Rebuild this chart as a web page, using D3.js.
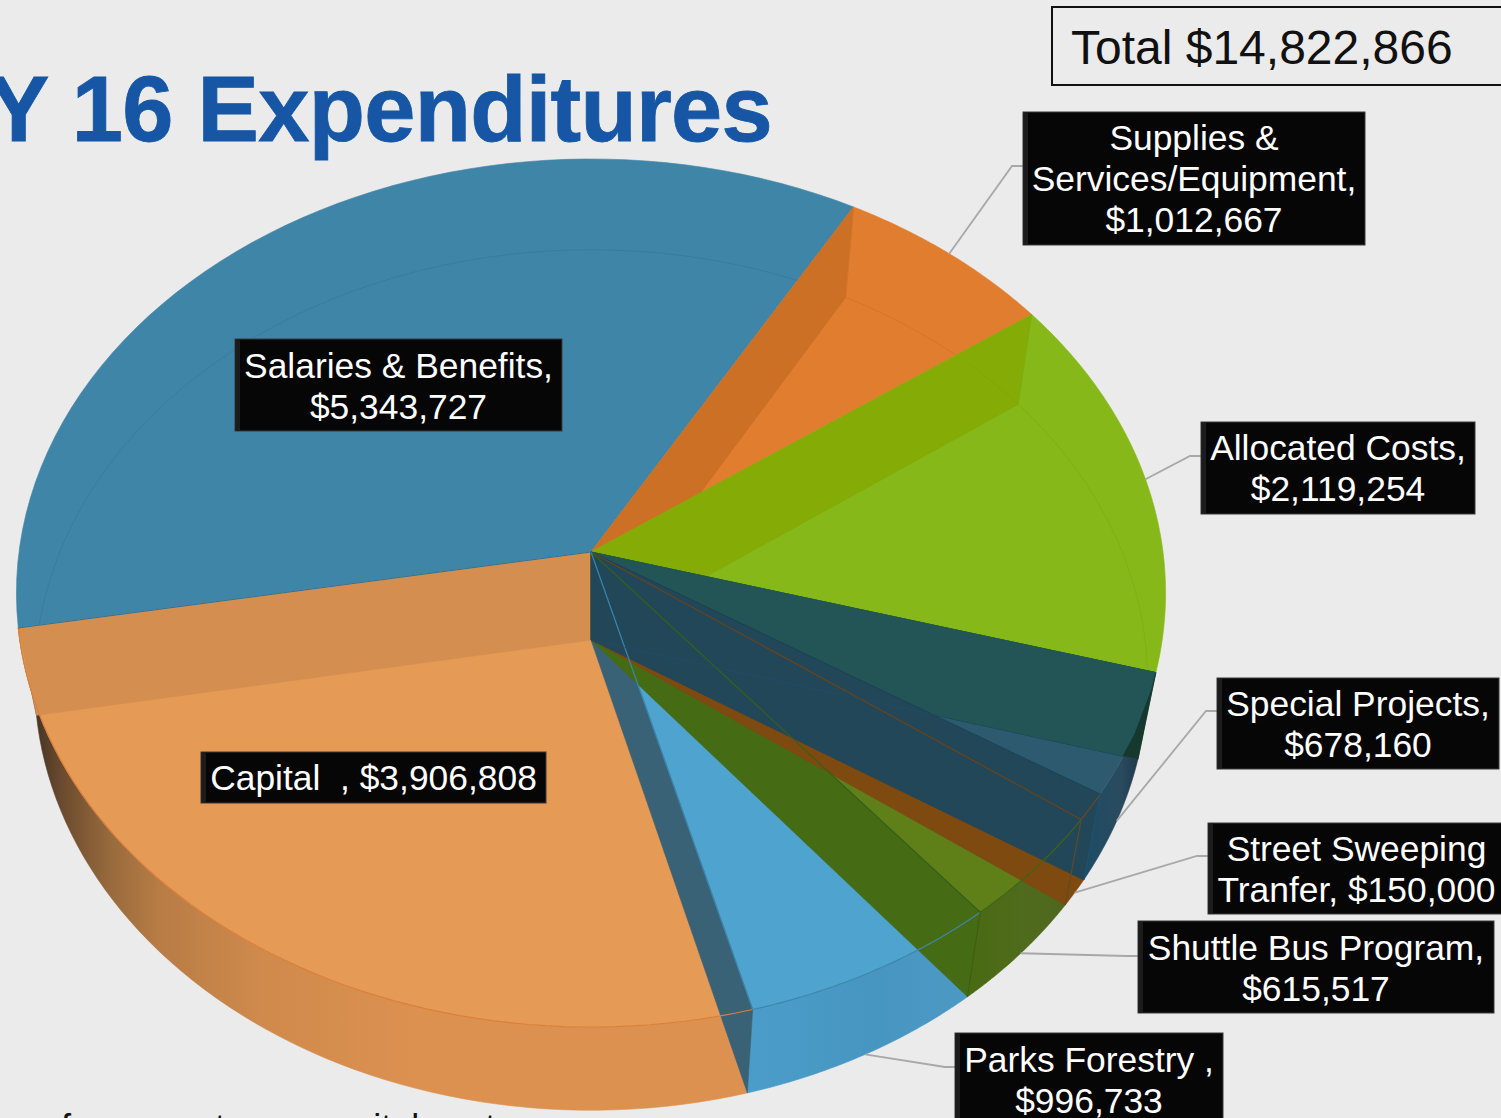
<!DOCTYPE html>
<html>
<head>
<meta charset="utf-8">
<script src="https://cdnjs.cloudflare.com/ajax/libs/d3/7.8.5/d3.min.js"></script>
<style>
html,body{margin:0;padding:0;background:#ebebeb;overflow:hidden}
svg{display:block}
text{font-family:"Liberation Sans",Arial,sans-serif}
</style>
</head>
<body>
<div id="chart"></div>
<script>
// ---- data ----
const categories = ["Salaries & Benefits","Supplies & Services/Equipment","Allocated Costs","Special Projects","Street Sweeping Tranfer","Shuttle Bus Program","Parks Forestry ","Capital  "];
const amounts = [5343727,1012667,2119254,678160,150000,615517,996733,3906808];
const totalLabel = "Total $14,822,866";
const titleText = "Y 16 Expenditures";
const footerText = "for current year capital costs";

// ---- layout and style ----
const W = 1501, H = 1118;
const labelBoxes = [
  {x:235,y:339,w:327,h:92,dy:38.5,lines:["Salaries & Benefits,","#"]},
  {x:1023,y:112,w:342,h:133,dy:38,lines:["Supplies &","Services/Equipment,","#"],elbow:[1012,166]},
  {x:1201,y:422,w:274,h:92,dy:37.7,lines:["Allocated Costs,","#"],elbow:[1190,456]},
  {x:1217,y:678,w:282,h:91,dy:37.7,lines:["Special Projects,","#"],elbow:[1206,711]},
  {x:1208,y:823,w:297,h:91,dy:38,lines:["Street Sweeping","Tranfer, #"],elbow:[1197,856]},
  {x:1138,y:921,w:356,h:92,dy:38.5,lines:["Shuttle Bus Program,","#"],elbow:[1127,956]},
  {x:955,y:1033,w:268,h:92,dy:38.5,lines:["Parks Forestry ,","#"],elbow:[945,1067]},
  {x:201,y:752,w:345,h:51,dy:37.7,lines:["Capital  , #"]}
];
const sliceStyle = [
  {face:"#3e85a8",wall:"#3e85a8"},
  {face:"#e17d2e",wall:"#cb7024"},
  {face:"#86b81a",wall:"#84ab06"},
  {face:"#2d5a6e",wall:"#235557"},
  {face:"#7f4a10",wall:"#7f4a10"},
  {face:"#5f8018",wall:"#456b14"},
  {face:"#4fa3cf",wall:"#3a6277"},
  {face:"#e59a56",wall:"#d48e50"}
];
// perspective discs: upper and lower rim of the pie
const discG = {ax:591,ay:552,B:378,k:0.0945,C:572};
const discF = {ax:591,ay:640,B:367,k:0.093,C:554};
const project = (s,a) => {
  const u=Math.sin(a), v=Math.cos(a), w=1+s.k*v;
  return [s.ax+s.C*u/w,(s.ay-s.B*v)/w];
};
const arcPts = (s,a0,a1) => d3.range(0,61).map(i=>project(s,a0+(a1-a0)*i/60));
const line = d3.line();
const closed = pts => line(pts)+"Z";
const sector = (s,a0,a1) => closed([[s.ax,s.ay],...arcPts(s,a0,a1)]);
const wall = a => closed([[discG.ax,discG.ay],project(discG,a),project(discF,a),[discF.ax,discF.ay]]);
const outer = (a0,a1) => closed([...arcPts(discG,a0,a1),...arcPts(discF,a0,a1).reverse()]);

const rad = Math.PI/180;
const pie = d3.pie().sort(null).startAngle(-100*rad).endAngle(260*rad);
const arcs = pie(amounts);
const [sal,sup,all,spe,str,shu,par,cap] = arcs;
const money = d3.format("$,");

const svg = d3.select("#chart").append("svg").attr("width",W).attr("height",H);
svg.append("rect").attr("width",W).attr("height",H).attr("fill","#ebebeb");

const defs = svg.append("defs");
const grad = (id,stops,x1,x2) => {
  const g = defs.append("linearGradient").attr("id",id).attr("gradientUnits","userSpaceOnUse")
    .attr("x1",x1).attr("x2",x2).attr("y1",0).attr("y2",0);
  stops.forEach(s=>g.append("stop").attr("offset",s[0]).attr("stop-color",s[1]));
};
grad("gCap",[[0,"#3f3024"],[0.08,"#6a4a2e"],[0.2,"#96693c"],[0.33,"#b87c45"],[0.6,"#d08a4c"],[1,"#dc9150"]],30,420);
grad("gPar",[[0,"#4b9dc9"],[0.6,"#4795c1"],[1,"#4c9ac4"]],750,970);
grad("gShu",[[0,"#4a6a14"],[0.5,"#4f6b1c"],[1,"#4f661e"]],975,1070);
grad("gSpe",[[0,"#1e4c66"],[0.6,"#2a4a5e"],[1,"#1b3442"]],1085,1145);
defs.append("clipPath").attr("id","insideG").append("path")
  .attr("d",closed(arcPts(discG,0,2*Math.PI)));

const paint = (d,fill,stroke) => svg.append("path").attr("d",d).attr("fill",fill)
  .attr("stroke",stroke||fill).attr("stroke-width",stroke?1:0.6).attr("stroke-linejoin","round");
const edge = (pts,col,w,op) => svg.append("path").attr("d",line(pts)).attr("fill","none")
  .attr("stroke",col).attr("stroke-width",w||1).attr("stroke-opacity",op==null?1:op);
const S = i => sliceStyle[i];
const T = a => project(discG,a), Bt = a => project(discF,a);
const AT=[discG.ax,discG.ay], AB=[discF.ax,discF.ay];

// title (behind the pie)
svg.append("text").attr("x",772).attr("y",141).attr("text-anchor","end")
  .attr("font-size",92).attr("font-weight","bold").attr("letter-spacing",-0.7)
  .attr("fill","#1656a5").attr("stroke","#1656a5").attr("stroke-width",0.8).text(titleText);
svg.append("text").attr("x",61).attr("y",1139.5).attr("font-size",36).attr("fill","#111").text(footerText);

// capital
paint(outer(cap.startAngle,cap.endAngle),"url(#gCap)");
paint(sector(discG,cap.startAngle,cap.endAngle),S(7).face);
// salaries
paint(sector(discG,sal.startAngle,sal.endAngle),S(0).face);
edge(arcPts(discF,sal.startAngle,sal.endAngle),"#377c9e",1,0.9);
paint(wall(cap.endAngle),S(7).wall);
// parks
paint(outer(par.startAngle,par.endAngle),"url(#gPar)");
paint(sector(discG,par.startAngle,par.endAngle),S(6).face);
paint(wall(par.endAngle),S(6).wall);
// shuttle
paint(outer(shu.startAngle,shu.endAngle),"url(#gShu)");
paint(sector(discG,shu.startAngle,shu.endAngle),S(5).face);
paint(wall(shu.endAngle),S(5).wall);
// street
paint(outer(str.startAngle,str.endAngle),S(4).face);
paint(wall(str.endAngle),S(4).wall);
// supplies
paint(sector(discG,sup.startAngle,sup.endAngle),S(1).face);
paint(wall(sup.startAngle),S(1).wall);
edge(arcPts(discF,sup.startAngle,sup.endAngle),"#d2742a",1,0.9);
// allocated
paint(sector(discG,all.startAngle,all.endAngle),S(2).face);
edge(arcPts(discF,all.startAngle,all.endAngle),"#7dac14",1,0.8);
paint(wall(all.startAngle),S(2).wall);
edge(arcPts(discF,sup.startAngle,sup.endAngle).slice(40),"#80a508",1,0.7);
// special projects
paint(outer(spe.startAngle,spe.endAngle),"url(#gSpe)");
paint(sector(discG,spe.startAngle,spe.endAngle),S(3).face);
paint(wall(spe.startAngle),"#16382f");
svg.append("path").attr("d",wall(spe.startAngle)).attr("fill",S(3).wall).attr("clip-path","url(#insideG)");
paint(wall(spe.endAngle),"#224759");

// thin rim and cut edges
edge(arcPts(discG,cap.startAngle,cap.endAngle),"#d9803a",1.2);
edge(arcPts(discG,par.startAngle,par.endAngle),"#3f86ac",1.2);
edge(arcPts(discG,shu.startAngle,shu.endAngle),"#3f6412",1.2);
edge(arcPts(discG,str.startAngle,str.endAngle),"#6b4a20",1.2);
edge([AT,T(spe.endAngle)],"#1c4155",1);
edge([AT,T(str.endAngle)],"#6b4418",1.2);
edge([AT,T(shu.endAngle)],"#35601a",1.2);
edge([AT,T(par.endAngle)],"#3a86ad",1.2);
edge([AB,Bt(spe.startAngle)],"#1f5068",1,0.6);
edge([T(str.endAngle),Bt(str.endAngle)],"#5f4a2a",1.2);
edge([T(spe.endAngle),Bt(spe.endAngle)],"#1d5270",1);
edge([T(shu.endAngle),Bt(shu.endAngle)],"#3d5c10",1);
edge([T(sup.startAngle),Bt(sup.startAngle)],"#d2752a",1,0.8);
edge([T(all.startAngle),Bt(all.startAngle)],"#7fae10",1,0.8);
edge([AT,T(sal.startAngle)],"#2f7396",1);
edge([AT,T(all.endAngle)],"#1e5a50",1);

// leader lines from the rim to each label
arcs.forEach((d,i)=>{
  const b = labelBoxes[i];
  if(!b.elbow) return;
  const mid = (d.startAngle+d.endAngle)/2;
  const start = mid<90*rad ? T(mid) : Bt(mid);
  svg.append("path").attr("d",line([start,b.elbow,[b.x,b.elbow[1]]]))
    .attr("fill","none").attr("stroke","#a8a8a8").attr("stroke-width",1.8);
});

// labels
labelBoxes.forEach((b,i)=>{
  const g = svg.append("g");
  g.append("rect").attr("x",b.x).attr("y",b.y).attr("width",b.w).attr("height",b.h)
    .attr("fill","#060606").attr("stroke","#3a3a3a").attr("stroke-width",1);
  g.append("rect").attr("x",b.x+1).attr("y",b.y+1).attr("width",4).attr("height",b.h-2).attr("fill","#1c1c1c");
  b.lines.forEach((l,j)=>{
    g.append("text").attr("x",b.x+b.w/2).attr("y",b.y+b.dy+j*41).attr("text-anchor","middle")
      .attr("font-size",35.4).attr("fill","#fff").style("white-space","pre")
      .text(l.replace("#",money(amounts[i])));
  });
});

// total box
svg.append("rect").attr("x",1052).attr("y",7).attr("width",460).attr("height",78)
  .attr("fill","#ebebeb").attr("stroke","#111").attr("stroke-width",2);
svg.append("text").attr("x",1071).attr("y",64).attr("font-size",48).attr("fill","#111").text(totalLabel);
</script>
</body>
</html>
